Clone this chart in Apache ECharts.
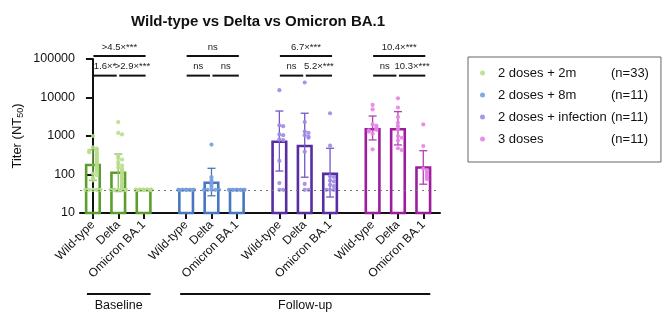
<!DOCTYPE html>
<html>
<head>
<meta charset="utf-8">
<script src="https://cdn.jsdelivr.net/npm/echarts@6/dist/echarts.min.js"></script>
<style>
html, body { margin: 0; padding: 0; background: #fff; }
#chart { width: 669px; height: 319px; }
</style>
</head>
<body>
<div id="chart"></div>
<script>
var variants = ['Wild-type', 'Delta', 'Omicron BA.1'];
var cohorts = ['2 doses + 2m', '2 doses + 8m', '2 doses + infection', '3 doses'];
var cohortN = ['(n=33)', '(n=11)', '(n=11)', '(n=11)'];
var phases = ['Baseline', 'Follow-up'];
var detectionLimit = 40;

// geometric means per variant (Wild-type, Delta, Omicron BA.1)
var gm2m = [177, 111, 40];
var gm8m = [40, 61, 40];
var gmInf = [711, 550, 104];
var gm3d = [1500, 1500, 152];

// error bars [low, high], 0 = none
var err2m = [[71, 440], [36, 340], [0, 0]];
var err8m = [[0, 0], [28, 145], [0, 0]];
var errInf = [[123, 4450], [85, 3900], [26, 480]];
var err3d = [[790, 3300], [585, 4300], [56, 415]];

// individual titers
var pts2m = [
  [1000, 510, 470, 450, 420, 400, 380, 350, 330, 310, 290, 270, 255, 240, 220, 205, 190, 170, 160, 145, 130, 118, 105, 95, 82, 70, 40, 40, 40, 40, 40, 40, 40],
  [2300, 1200, 1100, 310, 270, 245, 210, 185, 170, 150, 140, 125, 116, 104, 98, 90, 84, 77, 71, 66, 60, 56, 51, 47, 44, 40, 40, 40, 40, 40, 40, 40, 40],
  [40, 40, 40, 40, 40, 40, 40, 40, 40, 40, 40, 40, 40, 40, 40, 40, 40, 40, 40, 40, 40, 40, 40, 40, 40, 40, 40, 40, 40, 40, 40, 40, 40]
];
var pts8m = [
  [40, 40, 40, 40, 40, 40, 40, 40, 40, 40, 40],
  [600, 85, 72, 64, 55, 48, 40, 40, 40, 40, 40],
  [40, 40, 40, 40, 40, 40, 40, 40, 40, 40, 40]
];
var ptsInf = [
  [15500, 1900, 1800, 1100, 1050, 820, 780, 225, 60, 40, 40],
  [24500, 2300, 1300, 1200, 1050, 950, 900, 390, 57, 40, 40],
  [3900, 560, 90, 86, 70, 66, 54, 50, 40, 40, 40]
];
var pts3d = [
  [6400, 4900, 2000, 1850, 1650, 1500, 1450, 1400, 1300, 1150, 450],
  [9500, 5500, 3100, 2200, 1800, 1500, 1000, 900, 760, 480, 430],
  [2000, 550, 140, 128, 120, 112, 100, 94, 88, 80, 75]
];

// significance labels
var sigOverall = ['>4.5×***', 'ns', '6.7×***', '10.4×***'];
var sigPairs = [['1.6×*', '>2.9×***'], ['ns', 'ns'], ['ns', '5.2×***'], ['ns', '10.3×***']];

var barColors = ['#5b9e2c', '#4677bf', '#562da3', '#9d1e9c'];
var errColors = ['#86c05a', '#4677bf', '#7557c6', '#b23fb3'];
var dotColors = ['#b7de8c', '#75a0e2', '#a08ae4', '#e883e6'];
var font = 'Liberation Sans, Arial, Helvetica, sans-serif';

var groupStep = 3.68;
function pos(g, i) { return g * groupStep + i; }

var allMeans = [gm2m, gm8m, gmInf, gm3d];
var allErr = [err2m, err8m, errInf, err3d];
var allPts = [pts2m, pts8m, ptsInf, pts3d];

var tickPos = [];
var tickName = [];
for (var g = 0; g < 4; g++) {
  for (var i = 0; i < 3; i++) {
    tickPos.push(pos(g, i));
    tickName.push(variants[i]);
  }
}

// simple beeswarm so that equal titers sit side by side
function swarm(values, center) {
  var placed = [];
  return values.slice().sort(function (a, b) { return b - a; }).map(function (v) {
    var lv = Math.log10(v);
    var n = placed.filter(function (p) { return Math.abs(p - lv) < 0.05; }).length;
    placed.push(lv);
    var k = n % 5;
    var off = k === 0 ? 0 : (k % 2 ? 1 : -1) * Math.ceil(k / 2) * 0.15;
    return [center + off, v];
  });
}

var barData = [];
for (var g = 0; g < 4; g++) {
  for (var i = 0; i < 3; i++) {
    barData.push([pos(g, i), allMeans[g][i], allErr[g][i][0], allErr[g][i][1], g]);
  }
}

var bracketLabels = [];
var bracketData = [];
for (var g = 0; g < 4; g++) {
  bracketLabels.push(sigPairs[g][0]);
  bracketData.push([pos(g, 0), pos(g, 1), 37000, bracketLabels.length - 1, 0]);
  bracketLabels.push(sigPairs[g][1]);
  bracketData.push([pos(g, 1), pos(g, 2), 37000, bracketLabels.length - 1, 1]);
  bracketLabels.push(sigOverall[g]);
  bracketData.push([pos(g, 0), pos(g, 2), 120000, bracketLabels.length - 1, 2]);
}

var phaseData = [[pos(0, 0), pos(0, 2), 0], [pos(1, 0), pos(3, 2), 1]];

function renderBar(params, api) {
  var x = api.value(0), m = api.value(1), lo = api.value(2), hi = api.value(3), c = api.value(4);
  var top = api.coord([x, m]);
  var base = api.coord([x, 10]);
  var hw = 6.8;
  var kids = [{
    type: 'rect',
    shape: { x: top[0] - hw, y: top[1], width: hw * 2, height: base[1] - top[1] },
    style: { fill: 'rgba(255,255,255,0)', stroke: barColors[c], lineWidth: 2.6 }
  }];
  if (lo > 0) {
    var pl = api.coord([x, lo]), ph = api.coord([x, hi]);
    var st = { stroke: errColors[c], lineWidth: 1.3 };
    kids.push({ type: 'line', shape: { x1: pl[0], y1: pl[1], x2: ph[0], y2: ph[1] }, style: st });
    kids.push({ type: 'line', shape: { x1: ph[0] - 4, y1: ph[1], x2: ph[0] + 4, y2: ph[1] }, style: st });
    kids.push({ type: 'line', shape: { x1: pl[0] - 4, y1: pl[1], x2: pl[0] + 4, y2: pl[1] }, style: st });
  }
  return { type: 'group', children: kids };
}

function renderBracket(params, api) {
  var a = api.coord([api.value(0), api.value(2)]);
  var b = api.coord([api.value(1), api.value(2)]);
  var kind = api.value(4);
  var x1 = a[0] + (kind === 1 ? 1 : 0.5);
  var x2 = b[0] + (kind === 0 ? -1.5 : 2);
  return {
    type: 'group',
    children: [
      { type: 'line', shape: { x1: x1, y1: a[1], x2: x2, y2: a[1] }, style: { stroke: '#111', lineWidth: 2 } },
      { type: 'text', style: {
        text: bracketLabels[api.value(3)], x: (x1 + x2) / 2, y: a[1] - 4,
        align: 'center', verticalAlign: 'bottom', fontSize: 9.5, fontFamily: font, fill: '#222'
      } }
    ]
  };
}

function renderPhase(params, api) {
  var a = api.coord([api.value(0), 10]);
  var b = api.coord([api.value(1), 10]);
  var x1 = a[0] - 6, x2 = b[0] + 7;
  return {
    type: 'group',
    children: [
      { type: 'line', shape: { x1: x1, y1: a[1] + 81, x2: x2, y2: a[1] + 81 }, style: { stroke: '#111', lineWidth: 2 } },
      { type: 'text', style: {
        text: phases[api.value(2)], x: (x1 + x2) / 2, y: a[1] + 93,
        align: 'center', verticalAlign: 'middle', fontSize: 12.5, fontFamily: font, fill: '#111'
      } }
    ]
  };
}

var series = [
  { name: 'bars', type: 'custom', renderItem: renderBar, data: barData, encode: { x: 0, y: 1 }, z: 2, silent: true },
  { name: 'brackets', type: 'custom', renderItem: renderBracket, data: bracketData, encode: { x: 0, y: 2 }, z: 5, silent: true, clip: false },
  { name: 'phases', type: 'custom', renderItem: renderPhase, data: phaseData, encode: { x: 0 }, z: 5, silent: true, clip: false }
];

for (var g = 0; g < 4; g++) {
  var d = [];
  for (var i = 0; i < 3; i++) d = d.concat(swarm(allPts[g][i], pos(g, i)));
  var s = {
    name: cohorts[g], type: 'scatter', data: d, symbolSize: 4.2, z: 3,
    itemStyle: { color: dotColors[g], opacity: 0.9 }
  };
  if (g === 0) {
    s.markLine = {
      silent: true, symbol: 'none', label: { show: false },
      lineStyle: { type: [2, 4], color: '#777', width: 1 },
      data: [{ yAxis: detectionLimit }]
    };
  }
  series.push(s);
}

var chart = echarts.init(document.getElementById('chart'));
chart.setOption({
  animation: false,
  backgroundColor: '#fff',
  textStyle: { fontFamily: font },
  title: {
    text: 'Wild-type vs Delta vs Omicron BA.1',
    left: 126, top: 9,
    textStyle: { fontSize: 15, fontWeight: 'bold', color: '#111', fontFamily: font }
  },
  legend: {
    orient: 'vertical', left: 468, top: 57,
    padding: [8, 12, 15, 12],
    borderColor: '#666', borderWidth: 1,
    itemGap: 6, itemWidth: 5, itemHeight: 5, icon: 'circle',
    selectedMode: false,
    data: cohorts,
    formatter: function (name) {
      return '{n|' + name + '}{c|' + cohortN[cohorts.indexOf(name)] + '}';
    },
    textStyle: {
      fontSize: 13, color: '#111', lineHeight: 16,
      rich: {
        n: { width: 113, padding: [0, 0, 0, 8], fontSize: 13, lineHeight: 16 },
        c: { fontSize: 13, lineHeight: 16 }
      }
    }
  },
  grid: { left: 80, right: 229, top: 59, bottom: 106 },
  xAxis: {
    type: 'value', min: -0.51, max: 13.7,
    splitLine: { show: false },
    axisLine: { onZero: false, lineStyle: { color: '#111', width: 2 } },
    axisTick: { customValues: tickPos, length: 6, lineStyle: { color: '#111', width: 2 } },
    axisLabel: {
      customValues: tickPos, rotate: 45, margin: 10, fontSize: 12, color: '#111',
      formatter: function (v) {
        for (var k = 0; k < tickPos.length; k++) if (Math.abs(tickPos[k] - v) < 1e-6) return tickName[k];
        return '';
      }
    }
  },
  yAxis: {
    type: 'log', logBase: 10, min: 10, max: 100000,
    splitLine: { show: false },
    minorTick: { show: false },
    axisLine: { lineStyle: { color: '#111', width: 2 } },
    axisTick: { length: 7, lineStyle: { color: '#111', width: 2 } },
    axisLabel: {
      fontSize: 12.5, color: '#111', margin: 5,
      formatter: function (v) { return String(Math.round(v)); }
    },
    name: '{a|Titer (NT}{b|50}{a|)}',
    nameLocation: 'middle', nameGap: 55, nameMoveOverlap: false,
    nameTextStyle: {
      rich: {
        a: { fontSize: 13, color: '#111', fontFamily: font },
        b: { fontSize: 9, color: '#111', fontFamily: font, padding: [6, 0, 0, 0] }
      }
    }
  },
  series: series
});
</script>
</body>
</html>
